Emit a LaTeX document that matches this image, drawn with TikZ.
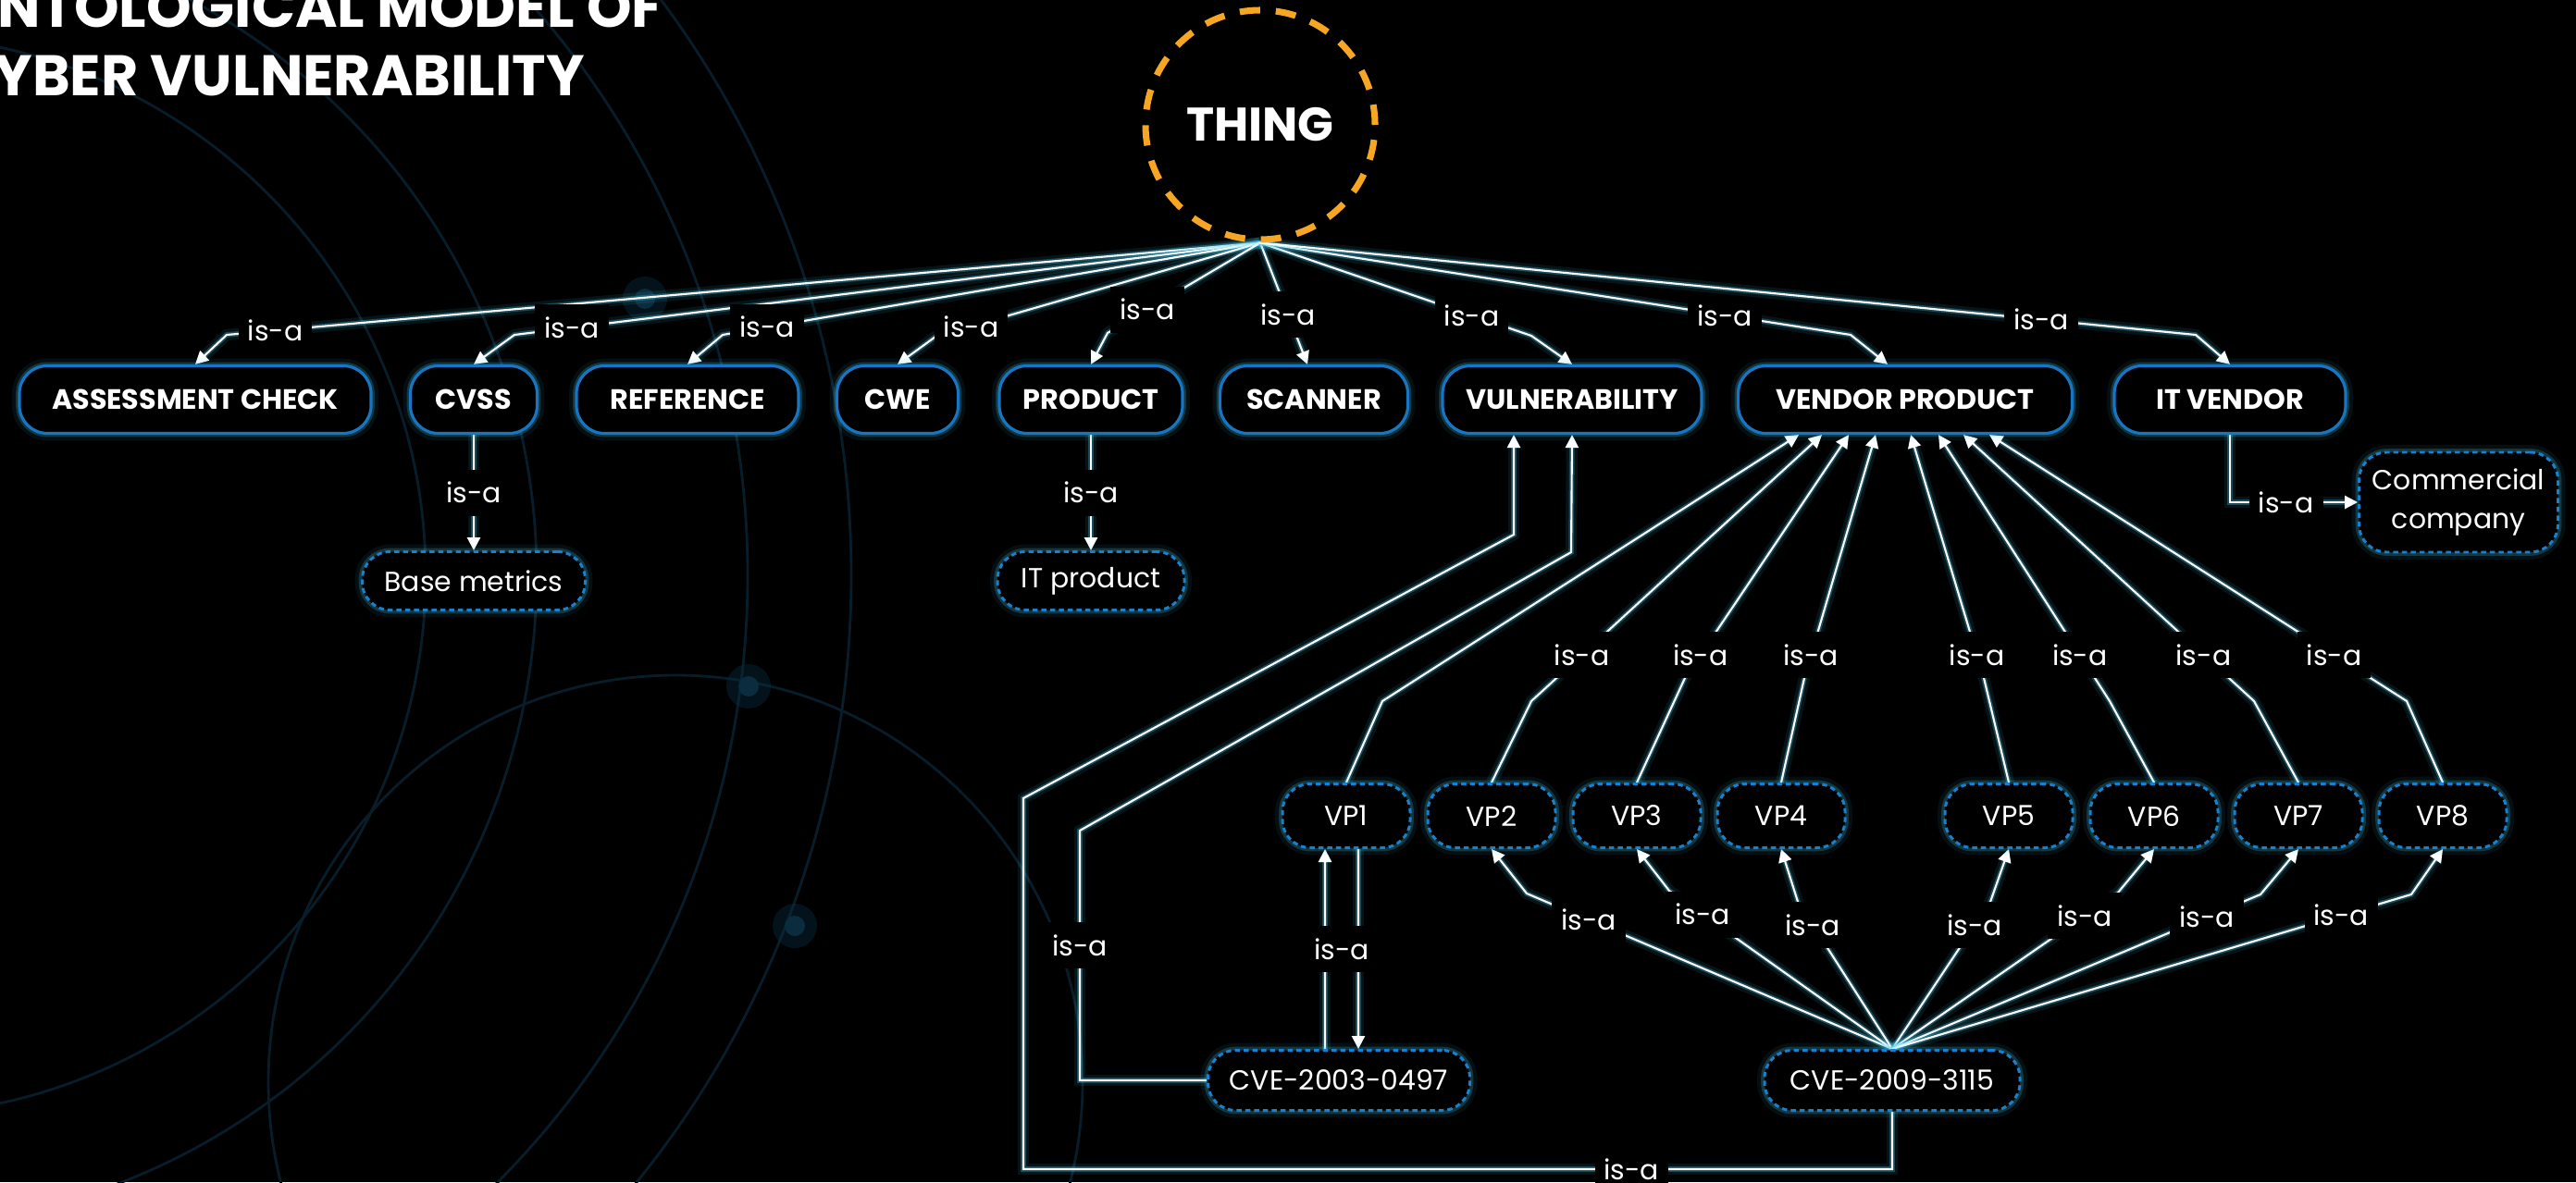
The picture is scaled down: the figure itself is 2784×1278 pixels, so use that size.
\documentclass[tikz,border=0pt]{standalone}
\usepackage{fontspec}
\setmainfont{Poppins}
\usepackage{tikz}
\usetikzlibrary{arrows.meta}
\pgfdeclarelayer{bg}
\pgfdeclarelayer{edges}
\pgfsetlayers{bg,edges,main}

\definecolor{boxblue}{RGB}{22,118,196}
\definecolor{dotblue}{RGB}{24,128,205}
\definecolor{glowc}{RGB}{70,200,235}
\definecolor{thingorange}{RGB}{246,166,35}
\definecolor{ring}{RGB}{7,30,42}
\definecolor{ringdot}{RGB}{10,44,62}

\tikzset{
  glow/.style={preaction={draw=glowc,solid,line width=4.5pt,opacity=.08},
               preaction={draw=glowc,solid,line width=2.2pt,opacity=.22}},
  classbox/.style={glow, rounded corners=3mm, draw=boxblue, line width=0.9pt, fill=black,
                   text=white, font=\bfseries\fontsize{8.6}{10}\selectfont, minimum height=7.3mm},
  instbox/.style={glow, rounded corners=3mm, draw=dotblue, line width=0.85pt,
                  dash pattern=on 0.55mm off 0.4mm, fill=black, text=white,
                  font=\fontsize{8.5}{12}\selectfont, minimum height=6.5mm, align=center},
  vpbox/.style={instbox, minimum width=13.8mm, minimum height=6.9mm},
  isa/.style={draw=white, line width=0.6pt, -{Triangle[length=1.4mm,width=1.4mm]},
              preaction={draw=glowc,line width=3.5pt,opacity=.1},
              preaction={draw=glowc,line width=1.6pt,opacity=.3}},
  lbl/.style={fill=black, text=white, font=\fontsize{8.5}{10}\selectfont,
              inner xsep=1mm, inner ysep=0pt, minimum height=5mm},
  heading/.style={anchor=base west, text=white, font=\bfseries\fontsize{17.6}{20}\selectfont}
}

\begin{document}
\begin{tikzpicture}[x=0.1mm,y=-0.1mm]
\useasboundingbox (0,0) rectangle (2784,1278);

\begin{pgfonlayer}{bg}
\fill[black] (0,0) rectangle (2784,1278);
\foreach \r in {58.4,70.4,93.2,104.4}
  \draw[ring, line width=0.8pt] (-124,622) circle (\r mm);
\draw[ring, line width=0.8pt] (730,1170) circle (44mm);
\foreach \p in {(697,323),(809,742),(859,1001)} {
  \fill[ringdot, opacity=.45] \p circle (2.4mm);
  \fill[ringdot] \p circle (1.1mm);
}
\end{pgfonlayer}

% heading
\node[heading] (title1) at (-64,30) {ONTOLOGICAL MODEL OF};
\node[heading] (title2) at (-66,104) {CYBER VULNERABILITY};

\node[circle, draw=thingorange, dash pattern=on 2.2mm off 1.7mm, line width=2pt, minimum size=24.8mm,
      text=white, font=\bfseries\fontsize{14.5}{16}\selectfont] (thing) at (1362,135) {THING};

% classes
\node[classbox, minimum width=38mm] (assess) at (211,432) {ASSESSMENT CHECK};
\node[classbox, minimum width=13.7mm] (cvss) at (512,432) {CVSS};
\node[classbox, minimum width=24mm] (reference) at (743,432) {REFERENCE};
\node[classbox, minimum width=13.1mm] (cwe) at (970,432) {CWE};
\node[classbox, minimum width=19.8mm] (product) at (1179,432) {PRODUCT};
\node[classbox, minimum width=20.3mm] (scanner) at (1420,432) {SCANNER};
\node[classbox, minimum width=28mm] (vuln) at (1699,432) {VULNERABILITY};
\node[classbox, minimum width=36.1mm] (vendorprod) at (2059,432) {VENDOR PRODUCT};
\node[classbox, minimum width=25mm] (itvendor) at (2410,432) {IT VENDOR};

% instances
\node[instbox, minimum width=24.1mm, minimum height=6.3mm] (basemetrics) at (512,628) {Base metrics};
\node[instbox, minimum width=20.2mm, minimum height=6.3mm] (itproduct) at (1179,628) {IT product};
\node[instbox, minimum width=21.5mm, minimum height=10.8mm] (commercial) at (2657,543) {Commercial\\company};
\foreach \i/\x in {1/1455,2/1612,3/1769,4/1925,5/2171,6/2328,7/2484,8/2640}
  \node[vpbox] (vp\i) at (\x,882) {VP\i};
\node[instbox, minimum width=28.3mm] (cve2003) at (1447,1168) {CVE-2003-0497};
\node[instbox, minimum width=27.6mm] (cve2009) at (2045,1168) {CVE-2009-3115};

\begin{pgfonlayer}{edges}
\draw[isa] (thing.south) -- node[lbl,pos=.953]{is-a} (245,362) -- (assess.north);
\draw[isa] (thing.south) -- node[lbl,pos=.923]{is-a} (556,362) -- (cvss.north);
\draw[isa] (thing.south) -- node[lbl,pos=.917]{is-a} (781,362) -- (reference.north);
\draw[isa] (thing.south) -- node[lbl,pos=.89]{is-a} (1011,364) -- (cwe.north);
\draw[isa] (thing.south) -- node[lbl,pos=.74]{is-a} (1197,360) -- (product.north);
\draw[isa] (thing.south) -- node[lbl,pos=.59]{is-a} ([xshift=-0.7mm]scanner.north);
\draw[isa] (thing.south) -- node[lbl,pos=.78]{is-a} (1655,363) -- (vuln.north);
\draw[isa] (thing.south) -- node[lbl,pos=.787]{is-a} (2000,362) -- ([xshift=-1.9mm]vendorprod.north);
\draw[isa] (thing.south) -- node[lbl,pos=.835]{is-a} (2373,362) -- (itvendor.north);

\draw[isa] (cvss.south) -- node[lbl]{is-a} (basemetrics.north);
\draw[isa] (product.south) -- node[lbl]{is-a} (itproduct.north);
\draw[isa] (itvendor.south) |- node[lbl,pos=.72]{is-a} (commercial.west);

% VP nodes up to VENDOR PRODUCT
\draw[isa] (vp1.north) -- (1494,758) -- ([xshift=-11.5mm]vendorprod.south);
\draw[isa] (vp2.north) -- (1655,758) -- node[lbl,pos=.174]{is-a} ([xshift=-9mm]vendorprod.south);
\draw[isa] (vp3.north) -- (1821,733) -- node[lbl,pos=.095]{is-a} ([xshift=-6.1mm]vendorprod.south);
\draw[isa] (vp4.north) -- (1950,733) -- node[lbl,pos=.095]{is-a} ([xshift=-3.2mm]vendorprod.south);
\draw[isa] (vp5.north) -- (2144,733) -- node[lbl,pos=.095]{is-a} ([xshift=0.6mm]vendorprod.south);
\draw[isa] (vp6.north) -- (2280,758) -- node[lbl,pos=.174]{is-a} ([xshift=3.6mm]vendorprod.south);
\draw[isa] (vp7.north) -- (2436,758) -- node[lbl,pos=.174]{is-a} ([xshift=6.3mm]vendorprod.south);
\draw[isa] (vp8.north) -- (2601,758) -- node[lbl,pos=.174]{is-a} ([xshift=9.1mm]vendorprod.south);

% CVE-2009-3115 fan
\draw[isa] (cve2009.north) -- node[lbl,pos=.83]{is-a} (1650,966) -- (vp2.south);
\draw[isa] (cve2009.north) -- node[lbl,pos=.85]{is-a} (1804,963) -- (vp3.south);
\draw[isa] (cve2009.north) -- node[lbl,pos=.84]{is-a} (1943,975) -- (vp4.south);
\draw[isa] (cve2009.north) -- node[lbl,pos=.84]{is-a} (2151,975) -- (vp5.south);
\draw[isa] (cve2009.north) -- node[lbl,pos=.853]{is-a} (2289,965) -- (vp6.south);
\draw[isa] (cve2009.north) -- node[lbl,pos=.854]{is-a} (2443,967) -- (vp7.south);
\draw[isa] (cve2009.north) -- node[lbl,pos=.865]{is-a} (2606,967) -- (vp8.south);

\draw[isa] ([xshift=1.3mm]vp1.south) -- ([xshift=2.1mm]cve2003.north);
\draw[isa] ([xshift=-1.5mm]cve2003.north) -- node[lbl,xshift=1.8mm]{is-a} ([xshift=-2.3mm]vp1.south);

% both CVEs up to VULNERABILITY
\draw[isa] (cve2003.west) -- (1167,1168) -- node[lbl,pos=.54]{is-a} (1167,898) -- (1698,597) -- (vuln.south);
\draw[isa] (cve2009.south) -- (2045,1264) -- node[lbl,pos=.3]{is-a} (1106,1264) -- (1106,863) -- (1636,578) -- ([xshift=-6.3mm]vuln.south);
\end{pgfonlayer}
\end{tikzpicture}
\end{document}
